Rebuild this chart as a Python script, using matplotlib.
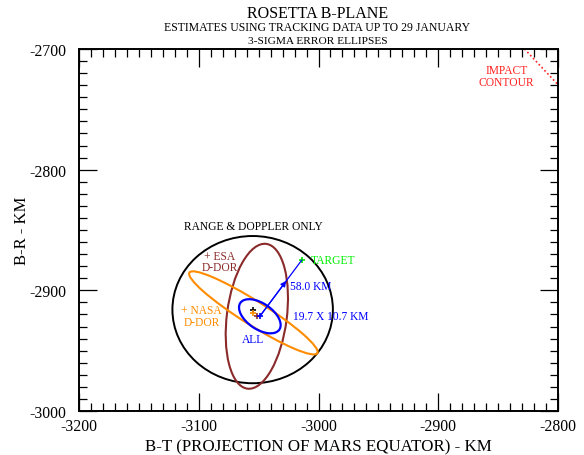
import matplotlib.pyplot as plt
from matplotlib.patches import Ellipse
from matplotlib.ticker import MultipleLocator

plt.rcParams['font.family'] = ['Liberation Serif', 'DejaVu Serif']
plt.rcParams['axes.unicode_minus'] = False

# error ellipses: center x, center y, full width, full height, angle (deg)
range_doppler = (-3055.0, -2916.0, 134.0, 122.0, 0.0)
esa_ddor = (-3051.5, -2921.5, 50.0, 121.0, -7.5)
nasa_ddor = (-3054.4, -2918.7, 126.0, 20.0, -32.0)
all_data = (-3049.0, -2921.5, 39.4, 21.4, -34.0)

# solution centers
center_rd = (-3054.4, -2916.0)
center_nasa = (-3055.0, -2918.7)
center_esa = (-3051.6, -2921.5)
center_all = (-3049.0, -2921.5)
target = (-3014.0, -2875.0)

# impact contour end points
impact_x = [-2828.0, -2800.0]
impact_y = [-2700.0, -2729.6]

fig = plt.figure(figsize=(5.84, 4.56), dpi=100)
ax = fig.add_axes([0.1353, 0.0965, 0.8202, 0.7939])
ax.set_xlim(-3200, -2800)
ax.set_ylim(-3000, -2700)

def add_ell(e, color, lw):
    cx, cy, w, h, ang = e
    ax.add_patch(Ellipse((cx, cy), w, h, angle=ang, fill=False,
                         edgecolor=color, linewidth=lw))

brown = '#8B2a2a'
orange = '#FF8C00'
blue = '#0000FF'
green = '#00EE00'
red = '#FF2020'

add_ell(range_doppler, 'black', 1.4)
add_ell(esa_ddor, brown, 1.5)
add_ell(nasa_ddor, orange, 1.5)
add_ell(all_data, blue, 1.6)

ax.plot(*center_rd, marker='+', color='black', ms=5, mew=1.2)
ax.plot(*center_nasa, marker='+', color=orange, ms=5, mew=1.2)
ax.plot(*center_esa, marker='+', color=brown, ms=5, mew=1.2)
ax.plot(*center_all, marker='+', color=blue, ms=5, mew=1.2)
ax.plot(*target, marker='+', color=green, ms=5, mew=1.2)

# arrow from ALL solution to target
ax.plot([center_all[0], target[0]], [center_all[1], target[1]], color=blue, lw=0.9)
fr = 0.63
mid = (center_all[0] + fr * (target[0] - center_all[0]),
       center_all[1] + fr * (target[1] - center_all[1]))
ax.annotate('', xy=mid, xytext=center_all,
            arrowprops=dict(arrowstyle='-|>', color=blue, lw=0.9,
                            mutation_scale=8, shrinkA=0, shrinkB=0))

ax.plot(impact_x, impact_y, color=red, lw=1.2, ls=(0, (1, 1.5)))

ts = 8.3
ax.text(-3054.7, -2846.6, 'RANGE & DOPPLER ONLY', color='black', fontsize=ts,
        ha='center', va='center')
ax.text(-3082.3, -2876, '+ ESA\nD-DOR', color=brown, fontsize=ts, ha='center',
        va='center', linespacing=0.95)
ax.text(-3097.5, -2921.2, '+ NASA\nD-DOR', color=orange, fontsize=ts, ha='center',
        va='center', linespacing=0.95)
ax.text(-3006.5, -2874.6, 'TARGET', color=green, fontsize=ts, ha='left', va='center')
ax.text(-3023.8, -2896.6, '58.0 KM', color=blue, fontsize=ts, ha='left', va='center')
ax.text(-3021, -2921.5, '19.7 X 10.7 KM', color=blue, fontsize=ts, ha='left', va='center')
ax.text(-3054.4, -2940.3, 'ALL', color=blue, fontsize=ts, ha='center', va='center')
ax.text(-2842.8, -2722.5, 'IMPACT\nCONTOUR', color=red, fontsize=ts, ha='center',
        va='center', linespacing=0.95)

ax.xaxis.set_major_locator(MultipleLocator(100))
ax.xaxis.set_minor_locator(MultipleLocator(10))
ax.yaxis.set_major_locator(MultipleLocator(100))
ax.yaxis.set_minor_locator(MultipleLocator(10))
ax.tick_params(which='both', direction='in', top=True, right=True, labelsize=11.3)
ax.tick_params(which='major', length=13, width=0.9)
ax.tick_params(which='minor', length=6, width=0.9)
ax.tick_params(axis='x', pad=5)
ax.tick_params(axis='y', pad=9)
for s in ax.spines.values():
    s.set_linewidth(1.4)

ax.set_xlabel('B-T (PROJECTION OF MARS EQUATOR) - KM', fontsize=12.2, labelpad=3)
ax.set_ylabel('B-R - KM', fontsize=12, labelpad=0)

fig.text(0.5437, 1 - 14 / 456, 'ROSETTA B-PLANE', fontsize=11.5, ha='center', va='center')
fig.text(0.5437, 1 - 28 / 456, 'ESTIMATES USING TRACKING DATA UP TO 29 JANUARY',
         fontsize=8.5, ha='center', va='center')
fig.text(0.5437, 1 - 41 / 456, '3-SIGMA ERROR ELLIPSES', fontsize=8.2,
         ha='center', va='center')

fig.savefig('out.png', dpi=100)
